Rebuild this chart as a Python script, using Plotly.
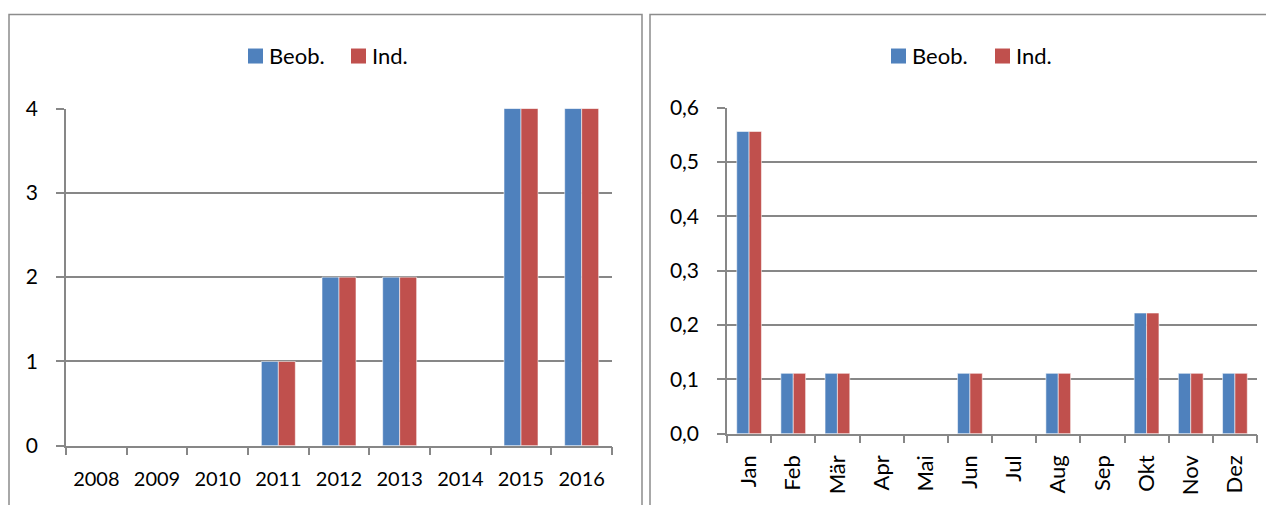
import plotly.graph_objects as go

W, H = 1274, 505
OFFX = 8      # page body margin compensation (horizontal)
OFFY = 8      # page body margin compensation (vertical)
VS, VB = 0.95, 13.9  # empirical vertical mapping of the screenshot

years = ["2008", "2009", "2010", "2011", "2012", "2013", "2014", "2015", "2016"]
beob_years = [0, 0, 0, 1, 2, 2, 0, 4, 4]
ind_years = [0, 0, 0, 1, 2, 2, 0, 4, 4]

months = ["Jan", "Feb", "Mär", "Apr", "Mai", "Jun", "Jul", "Aug", "Sep", "Okt", "Nov", "Dez"]
beob_months = [0.556, 0.111, 0.111, 0, 0, 0.111, 0, 0.111, 0, 0.222, 0.111, 0.111]
ind_months = [0.556, 0.111, 0.111, 0, 0, 0.111, 0, 0.111, 0, 0.222, 0.111, 0.111]

yticks_left = [0, 1, 2, 3, 4]
yticks_right = [0, 0.1, 0.2, 0.3, 0.4, 0.5, 0.6]
yticklabels_right = ["0,0", "0,1", "0,2", "0,3", "0,4", "0,5", "0,6"]

series_names = ["Beob.", "Ind."]

BLUE = "#4F81BD"
RED = "#C0504D"
GRID = "#878787"
FONT = "Lato"


def px(x):
    return (x - OFFX) / W


def py(y):
    return 1 - ((y - VB) / VS - OFFY) / H


fig = go.Figure()
edge = dict(color="rgba(255,255,255,0.55)", width=1)

fig.add_trace(go.Bar(x=years, y=beob_years, name=series_names[0], marker=dict(color=BLUE, line=edge),
                     xaxis="x", yaxis="y", showlegend=False))
fig.add_trace(go.Bar(x=years, y=ind_years, name=series_names[1], marker=dict(color=RED, line=edge),
                     xaxis="x", yaxis="y", showlegend=False))
fig.add_trace(go.Bar(x=months, y=beob_months, name=series_names[0], marker=dict(color=BLUE, line=edge),
                     xaxis="x2", yaxis="y2", showlegend=False))
fig.add_trace(go.Bar(x=months, y=ind_months, name=series_names[1], marker=dict(color=RED, line=edge),
                     xaxis="x2", yaxis="y2", showlegend=False))

xcommon = dict(type="category", showline=True, linecolor=GRID, linewidth=1.5,
               ticks="outside", tickson="boundaries", ticklen=8, tickcolor=GRID, tickwidth=1.5,
               showgrid=False, fixedrange=True, zeroline=False)
ycommon = dict(showline=True, linecolor=GRID, linewidth=1.5, ticks="outside", ticklen=8,
               tickcolor=GRID, tickwidth=1.5, showgrid=True, gridcolor=GRID, gridwidth=1.5,
               zeroline=False, fixedrange=True, ticklabelstandoff=14,
               tickfont=dict(family=FONT, size=21, color="#000000"))

fig.update_layout(
    width=W, height=H,
    margin=dict(l=0, r=0, t=0, b=0),
    paper_bgcolor="white", plot_bgcolor="white",
    barmode="group", bargap=0.44,
    font=dict(family=FONT, size=21, color="#000000"),
    showlegend=False,
    xaxis=dict(domain=[px(66), px(612)], anchor="y", tickangle=0, ticklabelstandoff=15,
               tickfont=dict(family=FONT, size=20, color="#000000"), **xcommon),
    yaxis=dict(domain=[py(445), py(108)], anchor="x", range=[0, 4], tickvals=yticks_left,
               ticktext=[str(v) for v in yticks_left], **ycommon),
    xaxis2=dict(domain=[px(727), px(1257)], anchor="y2", tickangle=-90, ticklabelstandoff=11,
                tickfont=dict(family=FONT, size=22, color="#000000"), **xcommon),
    yaxis2=dict(domain=[py(433), py(107)], anchor="x2", range=[0, 0.6], tickvals=yticks_right,
                ticktext=yticklabels_right, **ycommon),
)

BORDER = "#8C8C8C"
fig.add_shape(type="rect", xref="paper", yref="paper", x0=px(9), x1=px(642), y0=py(540), y1=py(14),
              line=dict(color=BORDER, width=1.5), fillcolor="rgba(0,0,0,0)", layer="below")
fig.add_shape(type="rect", xref="paper", yref="paper", x0=px(650), x1=px(1300), y0=py(540), y1=py(14),
              line=dict(color=BORDER, width=1.5), fillcolor="rgba(0,0,0,0)", layer="below")

# manual legends (square symbol + real text)
legend_items = [
    (248, series_names[0], BLUE), (351, series_names[1], RED),
    (891, series_names[0], BLUE), (995, series_names[1], RED),
]
for x0, label, col in legend_items:
    fig.add_shape(type="rect", xref="paper", yref="paper", x0=px(x0), x1=px(x0 + 15),
                  y0=py(63), y1=py(48), line=dict(width=0), fillcolor=col)
    fig.add_annotation(xref="paper", yref="paper", x=px(x0 + 19), y=py(55), text=label,
                       showarrow=False, xanchor="left", yanchor="middle",
                       font=dict(family=FONT, size=22, color="#000000"))

fig.write_html("out.html")
